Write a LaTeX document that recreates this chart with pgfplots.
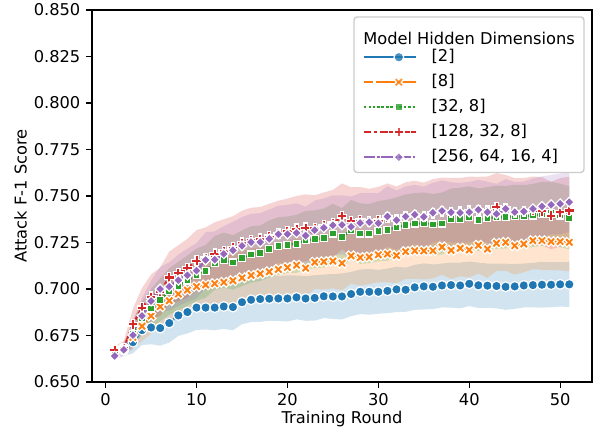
\documentclass[border=0pt]{standalone}
\usepackage{fontspec}
\setmainfont{DejaVu Sans}
\usepackage{pgfplots}
\usepgfplotslibrary{fillbetween}
\usepackage{pgfplotstable}
\pgfplotsset{compat=1.18}

\definecolor{cblue}{HTML}{1F77B4}
\definecolor{corange}{HTML}{FF7F0E}
\definecolor{cgreen}{HTML}{2CA02C}
\definecolor{cred}{HTML}{D62728}
\definecolor{cpurple}{HTML}{9467BD}

\pgfdeclareplotmark{Xf}{%
  \pgfpathmoveto{\pgfpoint{-0.5\pgfplotmarksize}{-\pgfplotmarksize}}%
  \pgfpathlineto{\pgfpoint{0pt}{-0.5\pgfplotmarksize}}%
  \pgfpathlineto{\pgfpoint{0.5\pgfplotmarksize}{-\pgfplotmarksize}}%
  \pgfpathlineto{\pgfpoint{\pgfplotmarksize}{-0.5\pgfplotmarksize}}%
  \pgfpathlineto{\pgfpoint{0.5\pgfplotmarksize}{0pt}}%
  \pgfpathlineto{\pgfpoint{\pgfplotmarksize}{0.5\pgfplotmarksize}}%
  \pgfpathlineto{\pgfpoint{0.5\pgfplotmarksize}{\pgfplotmarksize}}%
  \pgfpathlineto{\pgfpoint{0pt}{0.5\pgfplotmarksize}}%
  \pgfpathlineto{\pgfpoint{-0.5\pgfplotmarksize}{\pgfplotmarksize}}%
  \pgfpathlineto{\pgfpoint{-\pgfplotmarksize}{0.5\pgfplotmarksize}}%
  \pgfpathlineto{\pgfpoint{-0.5\pgfplotmarksize}{0pt}}%
  \pgfpathlineto{\pgfpoint{-\pgfplotmarksize}{-0.5\pgfplotmarksize}}%
  \pgfpathclose\pgfusepathqfillstroke}
\pgfdeclareplotmark{Pf}{%
  \pgfpathmoveto{\pgfpoint{-0.3333\pgfplotmarksize}{-\pgfplotmarksize}}%
  \pgfpathlineto{\pgfpoint{0.3333\pgfplotmarksize}{-\pgfplotmarksize}}%
  \pgfpathlineto{\pgfpoint{0.3333\pgfplotmarksize}{-0.3333\pgfplotmarksize}}%
  \pgfpathlineto{\pgfpoint{\pgfplotmarksize}{-0.3333\pgfplotmarksize}}%
  \pgfpathlineto{\pgfpoint{\pgfplotmarksize}{0.3333\pgfplotmarksize}}%
  \pgfpathlineto{\pgfpoint{0.3333\pgfplotmarksize}{0.3333\pgfplotmarksize}}%
  \pgfpathlineto{\pgfpoint{0.3333\pgfplotmarksize}{\pgfplotmarksize}}%
  \pgfpathlineto{\pgfpoint{-0.3333\pgfplotmarksize}{\pgfplotmarksize}}%
  \pgfpathlineto{\pgfpoint{-0.3333\pgfplotmarksize}{0.3333\pgfplotmarksize}}%
  \pgfpathlineto{\pgfpoint{-\pgfplotmarksize}{0.3333\pgfplotmarksize}}%
  \pgfpathlineto{\pgfpoint{-\pgfplotmarksize}{-0.3333\pgfplotmarksize}}%
  \pgfpathlineto{\pgfpoint{-0.3333\pgfplotmarksize}{-0.3333\pgfplotmarksize}}%
  \pgfpathclose\pgfusepathqfillstroke}
\pgfdeclareplotmark{Sf}{%
  \pgfpathrectanglecorners{\pgfpoint{-0.7071\pgfplotmarksize}{-0.7071\pgfplotmarksize}}{\pgfpoint{0.7071\pgfplotmarksize}{0.7071\pgfplotmarksize}}%
  \pgfusepathqfillstroke}
\pgfdeclareplotmark{Df}{%
  \pgfpathmoveto{\pgfpoint{0pt}{\pgfplotmarksize}}%
  \pgfpathlineto{\pgfpoint{\pgfplotmarksize}{0pt}}%
  \pgfpathlineto{\pgfpoint{0pt}{-\pgfplotmarksize}}%
  \pgfpathlineto{\pgfpoint{-\pgfplotmarksize}{0pt}}%
  \pgfpathclose\pgfusepathqfillstroke}

% x mean halfwidth
\pgfplotstableread{
x m e
1 0.6660 0.0015
2 0.6670 0.0030
3 0.6714 0.0060
4 0.6779 0.0080
5 0.6793 0.0090
6 0.6790 0.0095
7 0.6817 0.0105
8 0.6858 0.0110
9 0.6876 0.0115
10 0.6900 0.0120
11 0.6900 0.0118
12 0.6900 0.0122
13 0.6906 0.0120
14 0.6903 0.0125
15 0.6929 0.0118
16 0.6942 0.0120
17 0.6946 0.0123
18 0.6948 0.0119
19 0.6949 0.0121
20 0.6949 0.0124
21 0.6955 0.0118
22 0.6949 0.0120
23 0.6952 0.0122
24 0.6961 0.0117
25 0.6960 0.0121
26 0.6960 0.0124
27 0.6973 0.0119
28 0.6985 0.0120
29 0.6985 0.0123
30 0.6985 0.0118
31 0.6990 0.0120
32 0.6998 0.0122
33 0.6996 0.0119
34 0.7009 0.0121
35 0.7014 0.0124
36 0.7012 0.0120
37 0.7019 0.0118
38 0.7021 0.0121
39 0.7019 0.0123
40 0.7028 0.0120
41 0.7020 0.0122
42 0.7018 0.0119
43 0.7016 0.0120
44 0.7012 0.0124
45 0.7014 0.0121
46 0.7019 0.0118
47 0.7021 0.0120
48 0.7023 0.0123
49 0.7023 0.0121
50 0.7025 0.0119
51 0.7025 0.0122
}\dblue

\pgfplotstableread{
x m e
1 0.6670 0.0015
2 0.6680 0.0030
3 0.6740 0.0060
4 0.6800 0.0080
5 0.6855 0.0095
6 0.6905 0.0108
7 0.6937 0.0118
8 0.6973 0.0125
9 0.6994 0.0130
10 0.7013 0.0135
11 0.7022 0.0138
12 0.7029 0.0140
13 0.7036 0.0142
14 0.7045 0.0139
15 0.7060 0.0143
16 0.7073 0.0146
17 0.7082 0.0141
18 0.7093 0.0144
19 0.7105 0.0147
20 0.7116 0.0143
21 0.7128 0.0145
22 0.7112 0.0148
23 0.7144 0.0144
24 0.7147 0.0150
25 0.7150 0.0147
26 0.7139 0.0145
27 0.7178 0.0149
28 0.7169 0.0151
29 0.7172 0.0146
30 0.7184 0.0148
31 0.7188 0.0152
32 0.7180 0.0149
33 0.7201 0.0147
34 0.7206 0.0151
35 0.7205 0.0153
36 0.7206 0.0149
37 0.7226 0.0150
38 0.7208 0.0154
39 0.7219 0.0151
40 0.7210 0.0148
41 0.7235 0.0152
42 0.7215 0.0155
43 0.7246 0.0150
44 0.7251 0.0153
45 0.7233 0.0156
46 0.7242 0.0152
47 0.7260 0.0154
48 0.7260 0.0157
49 0.7255 0.0153
50 0.7255 0.0155
51 0.7251 0.0156
}\dorange

\pgfplotstableread{
x m e
1 0.6670 0.0015
2 0.6680 0.0030
3 0.6760 0.0070
4 0.6843 0.0090
5 0.6895 0.0105
6 0.6942 0.0115
7 0.6987 0.0125
8 0.7016 0.0130
9 0.7045 0.0135
10 0.7077 0.0140
11 0.7095 0.0142
12 0.7140 0.0145
13 0.7155 0.0148
14 0.7143 0.0146
15 0.7165 0.0150
16 0.7186 0.0152
17 0.7192 0.0149
18 0.7216 0.0153
19 0.7231 0.0155
20 0.7238 0.0152
21 0.7243 0.0156
22 0.7262 0.0158
23 0.7268 0.0155
24 0.7274 0.0159
25 0.7298 0.0160
26 0.7278 0.0157
27 0.7318 0.0161
28 0.7298 0.0163
29 0.7298 0.0159
30 0.7311 0.0162
31 0.7316 0.0164
32 0.7332 0.0161
33 0.7344 0.0165
34 0.7352 0.0163
35 0.7353 0.0166
36 0.7347 0.0164
37 0.7352 0.0167
38 0.7375 0.0165
39 0.7377 0.0168
40 0.7386 0.0166
41 0.7372 0.0169
42 0.7381 0.0167
43 0.7386 0.0170
44 0.7386 0.0168
45 0.7390 0.0171
46 0.7390 0.0169
47 0.7395 0.0170
48 0.7404 0.0172
49 0.7408 0.0169
50 0.7395 0.0171
51 0.7383 0.0170
}\dgreen

\pgfplotstableread{
x m e
1 0.6673 0.0020
2 0.6680 0.0040
3 0.6810 0.0085
4 0.6900 0.0105
5 0.6958 0.0120
6 0.6985 0.0130
7 0.7062 0.0140
8 0.7085 0.0150
9 0.7112 0.0158
10 0.7152 0.0165
11 0.7163 0.0168
12 0.7189 0.0170
13 0.7203 0.0172
14 0.7222 0.0169
15 0.7248 0.0173
16 0.7262 0.0175
17 0.7270 0.0171
18 0.7282 0.0176
19 0.7297 0.0178
20 0.7312 0.0174
21 0.7323 0.0177
22 0.7329 0.0180
23 0.7328 0.0176
24 0.7340 0.0179
25 0.7352 0.0181
26 0.7390 0.0178
27 0.7365 0.0182
28 0.7368 0.0180
29 0.7362 0.0177
30 0.7368 0.0181
31 0.7385 0.0183
32 0.7372 0.0179
33 0.7392 0.0182
34 0.7398 0.0184
35 0.7392 0.0180
36 0.7408 0.0183
37 0.7418 0.0181
38 0.7412 0.0185
39 0.7415 0.0182
40 0.7420 0.0184
41 0.7422 0.0181
42 0.7420 0.0185
43 0.7440 0.0183
44 0.7432 0.0181
45 0.7412 0.0184
46 0.7415 0.0182
47 0.7420 0.0185
48 0.7418 0.0183
49 0.7395 0.0181
50 0.7412 0.0184
51 0.7422 0.0182
}\dred

\pgfplotstableread{
x m e
1 0.6640 0.0020
2 0.6673 0.0035
3 0.6752 0.0075
4 0.6856 0.0095
5 0.6935 0.0110
6 0.7000 0.0120
7 0.7013 0.0130
8 0.7047 0.0138
9 0.7074 0.0143
10 0.7099 0.0148
11 0.7156 0.0150
12 0.7158 0.0152
13 0.7189 0.0149
14 0.7208 0.0153
15 0.7232 0.0155
16 0.7252 0.0152
17 0.7252 0.0156
18 0.7270 0.0158
19 0.7294 0.0154
20 0.7295 0.0157
21 0.7302 0.0159
22 0.7287 0.0156
23 0.7316 0.0160
24 0.7329 0.0158
25 0.7343 0.0161
26 0.7345 0.0159
27 0.7335 0.0162
28 0.7355 0.0160
29 0.7359 0.0158
30 0.7354 0.0161
31 0.7390 0.0163
32 0.7370 0.0159
33 0.7390 0.0162
34 0.7400 0.0160
35 0.7388 0.0163
36 0.7410 0.0161
37 0.7420 0.0164
38 0.7412 0.0162
39 0.7410 0.0160
40 0.7413 0.0163
41 0.7426 0.0161
42 0.7413 0.0164
43 0.7404 0.0162
44 0.7431 0.0160
45 0.7413 0.0163
46 0.7417 0.0161
47 0.7431 0.0164
48 0.7444 0.0162
49 0.7453 0.0160
50 0.7458 0.0163
51 0.7467 0.0161
}\dpurple

\begin{document}
\fontsize{11.7pt}{14pt}\selectfont
\begin{tikzpicture}
\begin{axis}[
  name=ax,
  scale only axis,
  width=360pt, height=267.84pt,
  xmin=-1.5, xmax=53.5,
  ymin=0.65, ymax=0.85,
  xtick={0,10,20,30,40,50},
  ytick={0.65,0.675,0.7,0.725,0.75,0.775,0.8,0.825,0.85},
  tick align=outside,
  tick pos=left,
  major tick length=4.1pt,
  every tick/.style={black, line width=0.9pt},
  axis line style={black, line width=0.9pt},
  /pgf/number format/assume math mode=true,
  yticklabel style={/pgf/number format/.cd, fixed, fixed zerofill, precision=3},
  xticklabel style={/pgf/number format/.cd, fixed},
  every tick label/.append style={inner sep=0pt},
  xticklabel shift=4.1pt,
  yticklabel shift=4.1pt,
  xlabel={Training Round},
  ylabel={Attack F-1 Score},
  every axis x label/.style={at={([yshift=-30.2pt]axis description cs:0.5,0)}, anchor=base},
  every axis y label/.style={at={([xshift=-47pt]axis description cs:0,0.5)}, anchor=base, rotate=90},
  legend cell align=left,
  legend style={at={(1,1)}, anchor=north east, xshift=-5.8pt, yshift=-5pt,
    draw=black!20, line width=1pt, rounded corners=2.3pt, fill=white, fill opacity=0.8, text opacity=1,
    inner xsep=6.5pt, inner ysep=2pt, outer sep=0pt,
    column sep=10.3pt, row sep=0pt,
    nodes={inner xsep=0pt, inner ysep=0pt, text height=12pt, text depth=6pt}},
  legend image code/.code={%
    \path (0pt,0pt) -- (37.5pt,0pt);
    \draw[mark repeat=2, mark phase=2, #1] plot coordinates {(12.5pt,0pt) (25pt,0pt) (37.5pt,0pt)};},
]
% bands
\addplot[draw=none, name path=alo, forget plot] table[x=x, y expr=\thisrow{m}-\thisrow{e}] {\dblue};
\addplot[draw=none, name path=ahi, forget plot] table[x=x, y expr=\thisrow{m}+\thisrow{e}] {\dblue};
\addplot[fill=cblue, fill opacity=0.2, draw=none, forget plot] fill between[of=alo and ahi];
\addplot[draw=none, name path=blo, forget plot] table[x=x, y expr=\thisrow{m}-\thisrow{e}] {\dorange};
\addplot[draw=none, name path=bhi, forget plot] table[x=x, y expr=\thisrow{m}+\thisrow{e}] {\dorange};
\addplot[fill=corange, fill opacity=0.2, draw=none, forget plot] fill between[of=blo and bhi];
\addplot[draw=none, name path=clo, forget plot] table[x=x, y expr=\thisrow{m}-\thisrow{e}] {\dgreen};
\addplot[draw=none, name path=chi, forget plot] table[x=x, y expr=\thisrow{m}+\thisrow{e}] {\dgreen};
\addplot[fill=cgreen, fill opacity=0.2, draw=none, forget plot] fill between[of=clo and chi];
\addplot[draw=none, name path=dlo, forget plot] table[x=x, y expr=\thisrow{m}-\thisrow{e}] {\dred};
\addplot[draw=none, name path=dhi, forget plot] table[x=x, y expr=\thisrow{m}+\thisrow{e}] {\dred};
\addplot[fill=cred, fill opacity=0.2, draw=none, forget plot] fill between[of=dlo and dhi];
\addplot[draw=none, name path=elo, forget plot] table[x=x, y expr=\thisrow{m}-\thisrow{e}] {\dpurple};
\addplot[draw=none, name path=ehi, forget plot] table[x=x, y expr=\thisrow{m}+\thisrow{e}] {\dpurple};
\addplot[fill=cpurple, fill opacity=0.2, draw=none, forget plot] fill between[of=elo and ehi];

\addlegendimage{empty legend}
\addlegendentry{\hspace{-49.2pt}\raisebox{-5.5pt}{Model Hidden Dimensions}\hspace{2.2pt}}

\addplot[cblue, line width=1.6pt, mark=*, mark size=3.5pt,
  mark options={solid, fill=cblue, draw=white, line width=0.85pt}]
  table[x=x, y=m] {\dblue};
\addlegendentry{[2]}
\addplot[corange, line width=1.6pt, dash pattern=on 6.4pt off 2.4pt, mark=Xf, mark size=3.5pt,
  mark options={solid, fill=corange, draw=white, line width=0.85pt}]
  table[x=x, y=m] {\dorange};
\addlegendentry{[8]}
\addplot[cgreen, line width=1.6pt, dash pattern=on 1.6pt off 1.6pt, mark=Sf, mark size=3.5pt,
  mark options={solid, fill=cgreen, draw=white, line width=0.85pt}]
  table[x=x, y=m] {\dgreen};
\addlegendentry{[32, 8]}
\addplot[cred, line width=1.6pt, dash pattern=on 4.8pt off 2pt on 2.4pt off 2pt, mark=Pf, mark size=3.5pt,
  mark options={solid, fill=cred, draw=white, line width=0.85pt}]
  table[x=x, y=m] {\dred};
\addlegendentry{[128, 32, 8]}
\addplot[cpurple, line width=1.6pt, dash pattern=on 8pt off 1.6pt on 1.6pt off 1.6pt, mark=Df, mark size=3.5pt,
  mark options={solid, fill=cpurple, draw=white, line width=0.85pt}]
  table[x=x, y=m] {\dpurple};
\addlegendentry{[256, 64, 16, 4]}
\end{axis}
\pgfresetboundingbox
\path[use as bounding box] ([xshift=-66.24pt,yshift=-36pt]ax.south west) rectangle ([xshift=3.6pt,yshift=7.2pt]ax.north east);
\end{tikzpicture}
\end{document}
